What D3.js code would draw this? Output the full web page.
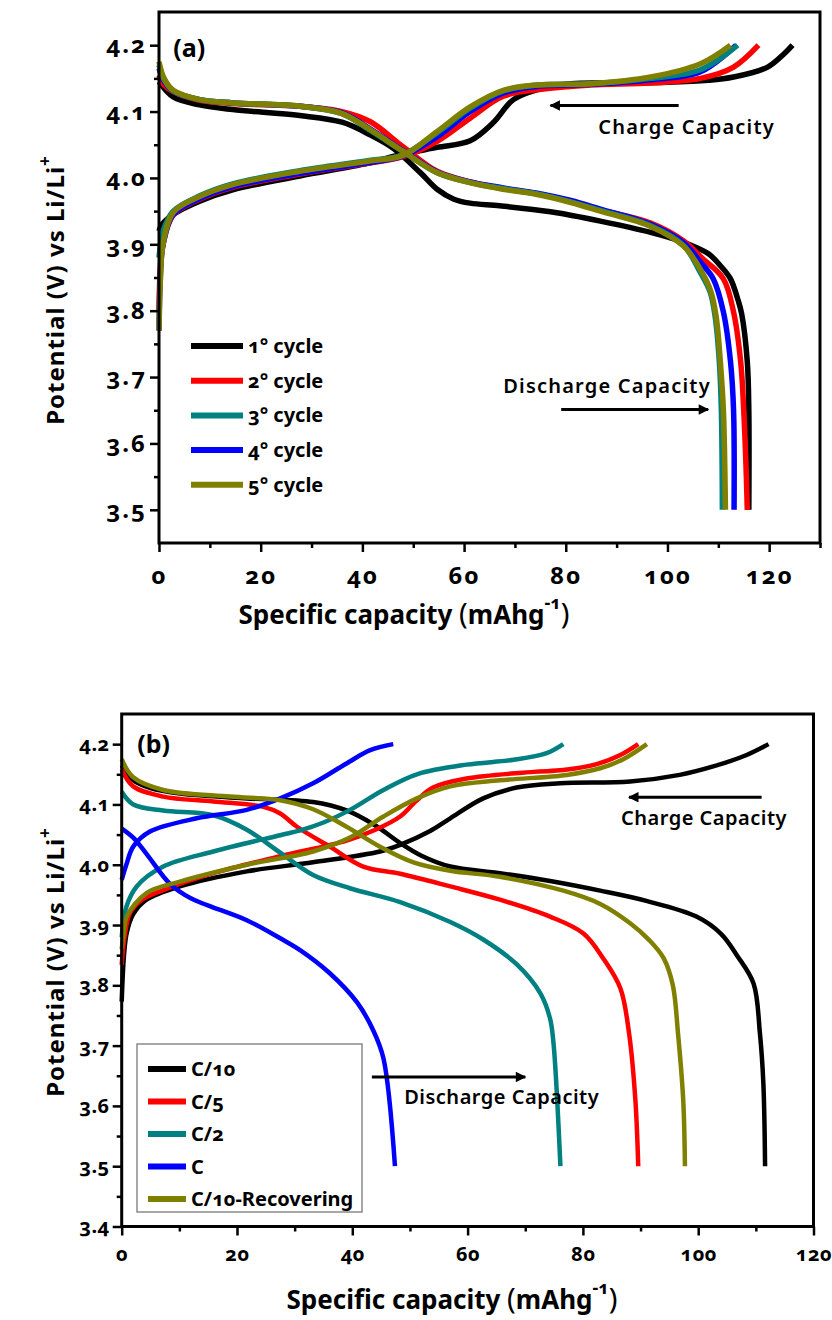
<!DOCTYPE html>
<html>
<head>
<meta charset="utf-8">
<script src="https://cdn.jsdelivr.net/npm/d3@7"></script>
<style>
body { margin: 0; background: #fff; }
svg text { font-family: "Noto Sans", "Open Sans", sans-serif; font-weight: bold; font-feature-settings: "onum"; fill: #000; }
</style>
</head>
<body>
<script>
// ---------- panel (a): first five cycles ----------
var a_labels = ["1\u00b0 cycle", "2\u00b0 cycle", "3\u00b0 cycle", "4\u00b0 cycle", "5\u00b0 cycle"];
var a_colors = ["#000000", "#ff0000", "#008080", "#0000ff", "#808000"];

var a_c1_charge = [[0,3.92],[0.6,3.93],[2.8,3.945],[8,3.965],[14.5,3.982],[27.7,4.003],[41,4.022],[48,4.036],[54.7,4.046],[61.2,4.056],[65.7,4.083],[69.7,4.118],[74.4,4.133],[81,4.142],[90,4.143],[100,4.144],[108,4.147],[113,4.152],[119.7,4.167],[122.8,4.186],[124.6,4.2]];
var a_c1_discharge = [[0,4.145],[2.8,4.122],[8,4.11],[14.5,4.103],[27.7,4.094],[36,4.084],[41.5,4.065],[46,4.045],[51.4,4.008],[54.7,3.983],[58,3.968],[61.2,3.962],[67,3.958],[77,3.949],[86.8,3.935],[96.7,3.918],[103.2,3.903],[108,3.886],[110.5,3.867],[112.4,3.848],[113.8,3.818],[114.6,3.795],[115.7,3.723],[116,3.65],[116,3.5]];

var a_c2_charge = [[0,3.8],[0.3,3.87],[0.8,3.9],[2.8,3.944],[8,3.968],[14.5,3.986],[27.7,4.006],[41,4.022],[48,4.032],[54.7,4.055],[61.2,4.09],[67.7,4.123],[75.6,4.134],[85,4.14],[96.7,4.143],[106.5,4.15],[113,4.167],[117.9,4.2]];
var a_c2_discharge = [[0,4.155],[1,4.14],[2.8,4.13],[8,4.117],[14.5,4.112],[27.7,4.108],[36,4.1],[41.5,4.085],[48,4.047],[54.7,4.01],[61.2,3.994],[67.7,3.984],[74.4,3.976],[81,3.965],[86.8,3.952],[96.7,3.932],[103.2,3.905],[107,3.878],[111,3.848],[113,3.798],[114.4,3.723],[115,3.65],[115.7,3.5]];

var a_c3_charge = [[0,3.88],[0.3,3.9],[0.8,3.92],[2.8,3.95],[8,3.973],[14.5,3.991],[27.7,4.011],[41,4.026],[48,4.035],[54.7,4.068],[61.2,4.105],[67.7,4.131],[74.4,4.14],[85,4.142],[96.7,4.15],[106.5,4.163],[113.8,4.2]];
var a_c3_discharge = [[0,4.17],[1,4.148],[2.8,4.131],[8,4.118],[14.5,4.113],[27.7,4.108],[36,4.097],[41.5,4.072],[48,4.04],[54.7,4.008],[61.2,3.993],[67.7,3.984],[74.4,3.976],[81,3.964],[86.8,3.951],[96.7,3.928],[103.2,3.898],[106.3,3.86],[108.4,3.828],[109.4,3.79],[110.2,3.723],[110.6,3.65],[110.8,3.5]];

var a_c4_charge = [[0,3.77],[0.3,3.86],[0.8,3.9],[2.8,3.945],[8,3.969],[14.5,3.987],[27.7,4.007],[41,4.023],[48,4.033],[54.7,4.062],[61.2,4.1],[67.7,4.128],[74.4,4.138],[85,4.141],[96.7,4.148],[106.5,4.16],[113.5,4.2]];
var a_c4_discharge = [[0,4.165],[1,4.146],[2.8,4.131],[8,4.118],[14.5,4.113],[27.7,4.108],[36,4.098],[41.5,4.074],[48,4.041],[54.7,4.009],[61.2,3.994],[67.7,3.985],[74.4,3.977],[81,3.966],[86.8,3.953],[96.7,3.93],[103.2,3.902],[106.5,3.873],[109,3.848],[111,3.798],[112.4,3.723],[113,3.65],[113.1,3.5]];

var a_c5_charge = [[0,3.77],[0.3,3.85],[0.8,3.9],[2.8,3.948],[8,3.972],[14.5,3.99],[27.7,4.01],[41,4.025],[48,4.034],[54.7,4.07],[61.2,4.107],[67.7,4.132],[74.4,4.14],[85,4.142],[96.7,4.152],[106.5,4.172],[112.4,4.2]];
var a_c5_discharge = [[0,4.175],[1,4.15],[2.8,4.132],[8,4.118],[14.5,4.113],[27.7,4.108],[36,4.097],[41.5,4.073],[48,4.04],[54.7,4.008],[61.2,3.993],[67.7,3.983],[74.4,3.975],[81,3.963],[86.8,3.95],[96.7,3.927],[103.2,3.897],[106.5,3.862],[108.5,3.83],[109.6,3.79],[110.4,3.723],[111,3.65],[111.4,3.5]];

var a_xTicks = [0, 20, 40, 60, 80, 100, 120];
var a_xMinor = [10, 30, 50, 70, 90, 110, 130];
var a_yTicks = [3.5, 3.6, 3.7, 3.8, 3.9, 4.0, 4.1, 4.2];
var a_yMinor = [3.55, 3.65, 3.75, 3.85, 3.95, 4.05, 4.15];

// ---------- panel (b): rate capability ----------
var b_labels = ["C/10", "C/5", "C/2", "C", "C/10-Recovering"];
var b_colors = ["#000000", "#ff0000", "#008080", "#0000ff", "#808000"];

var b_c10_charge = [[0,3.773],[0.4,3.85],[0.87,3.887],[2,3.918],[4.3,3.942],[10.1,3.964],[21.7,3.989],[33.2,4.004],[44.8,4.022],[48.3,4.033],[53.5,4.056],[57,4.077],[62.7,4.11],[68.5,4.128],[76,4.135],[88.2,4.138],[96.8,4.149],[102.6,4.163],[108.4,4.182],[112.2,4.2]];
var b_c10_discharge = [[0,4.165],[2,4.14],[5,4.127],[10.1,4.118],[21.7,4.11],[33.2,4.104],[39,4.09],[44,4.065],[48.3,4.036],[52,4.015],[57,3.997],[65.6,3.986],[74.3,3.973],[83,3.957],[91,3.94],[99.7,3.914],[104,3.885],[106.7,3.85],[109.6,3.803],[110.7,3.721],[111.3,3.638],[111.6,3.5]];

var b_c5_charge = [[0,3.834],[0.5,3.88],[1.44,3.92],[3.5,3.942],[7.2,3.958],[15.9,3.986],[27.5,4.014],[39,4.04],[44,4.058],[48.3,4.08],[51,4.105],[54,4.128],[59.8,4.143],[71.4,4.154],[76.6,4.157],[82.4,4.167],[86.5,4.182],[89.6,4.2]];
var b_c5_discharge = [[0,4.158],[2,4.13],[7.2,4.113],[15.9,4.105],[24.6,4.096],[27.5,4.085],[30.4,4.063],[36.1,4.03],[41.9,3.997],[48.3,3.985],[57,3.964],[65.6,3.942],[74.3,3.914],[80.1,3.886],[83.5,3.845],[86.5,3.795],[88,3.721],[89.1,3.61],[89.6,3.5]];

var b_c2_charge = [[0,3.88],[0.8,3.93],[2.6,3.964],[7.2,3.997],[15.9,4.022],[27.5,4.049],[31,4.057],[35,4.07],[39.6,4.091],[45.4,4.124],[51.2,4.15],[59.8,4.166],[68,4.174],[73.7,4.185],[76.6,4.2]];
var b_c2_discharge = [[0,4.121],[2,4.1],[7.2,4.09],[15.9,4.082],[21.7,4.058],[27.5,4.02],[33.2,3.983],[39.6,3.961],[48.3,3.938],[57,3.905],[62.7,3.876],[68.5,3.835],[72.6,3.787],[74.3,3.745],[74.9,3.704],[76.1,3.5]];

var b_c1_charge = [[0,3.975],[0.8,4.0],[2,4.03],[4.9,4.055],[13,4.077],[21.7,4.091],[27.5,4.11],[33.2,4.135],[39,4.168],[43.1,4.19],[47.1,4.2]];
var b_c1_discharge = [[0,4.06],[2,4.045],[4.3,4.018],[8.4,3.968],[11.9,3.945],[21.7,3.908],[27.5,3.878],[31,3.858],[36.1,3.82],[40.8,3.772],[43.6,3.726],[45.4,3.679],[47.4,3.5]];

var b_rec_charge = [[0,3.86],[0.4,3.89],[0.87,3.914],[4.3,3.953],[10.1,3.972],[21.7,4.0],[33.2,4.022],[39.6,4.045],[45.4,4.08],[51.2,4.11],[57,4.13],[65.6,4.14],[77.2,4.149],[83,4.16],[87,4.175],[91.1,4.2]];
var b_rec_discharge = [[0,4.175],[2,4.145],[7.2,4.124],[18.8,4.113],[27.5,4.107],[33.2,4.092],[39,4.063],[44.8,4.03],[50.6,4.004],[57,3.99],[65.6,3.98],[76.6,3.957],[83,3.935],[88.2,3.903],[91.5,3.875],[94,3.845],[95.6,3.8],[96.5,3.72],[97.4,3.61],[97.7,3.5]];

var b_xTicks = [0, 20, 40, 60, 80, 100, 120];
var b_xMinor = [10, 30, 50, 70, 90, 110];
var b_yTicks = [3.4, 3.5, 3.6, 3.7, 3.8, 3.9, 4.0, 4.1, 4.2];
var b_yMinor = [3.45, 3.55, 3.65, 3.75, 3.85, 3.95, 4.05, 4.15];

var svg = d3.select("body").append("svg")
            .attr("width", 832)
            .attr("height", 1320);

svg.append("defs").append("marker")
   .attr("id", "head")
   .attr("viewBox", "0 0 10 10")
   .attr("refX", 9).attr("refY", 5)
   .attr("markerWidth", 5).attr("markerHeight", 3.5)
   .attr("markerUnits", "strokeWidth")
   .attr("orient", "auto")
   .append("path").attr("d", "M0,0L10,5L0,10z").attr("fill", "#000");

function drawPanel(p) {
    var x = d3.scaleLinear().domain(p.xDomain).range([p.left, p.right]);
    var y = d3.scaleLinear().domain(p.yDomain).range([p.bottom, p.top]);
    var g = svg.append("g");

    var line = d3.line()
                 .x(function(d) { return x(d[0]); })
                 .y(function(d) { return y(d[1]); })
                 .curve(d3.curveCatmullRom.alpha(0.5));

    p.order.forEach(function(i) {
        [p.charge[i], p.discharge[i]].forEach(function(arr) {
            g.append("path")
             .attr("d", line(arr))
             .attr("fill", "none")
             .attr("stroke", p.colors[i])
             .attr("stroke-width", p.lw)
             .attr("stroke-linejoin", "round");
        });
    });

    // frame
    g.append("rect")
     .attr("x", p.left).attr("y", p.top)
     .attr("width", p.right - p.left).attr("height", p.bottom - p.top)
     .attr("fill", "none").attr("stroke", "#000").attr("stroke-width", 3);

    // axes (major + minor)
    var yAx = g.append("g").attr("transform", "translate(" + p.left + ",0)")
               .call(d3.axisLeft(y).tickValues(p.yTicks).tickSize(9).tickPadding(3).tickFormat(d3.format(".1f")));
    var yMin = g.append("g").attr("transform", "translate(" + p.left + ",0)")
               .call(d3.axisLeft(y).tickValues(p.yMinor).tickSize(5).tickFormat(""));
    var xAx = g.append("g").attr("transform", "translate(0," + p.bottom + ")")
               .call(d3.axisBottom(x).tickValues(p.xTicks).tickSize(9).tickPadding(p.xPad).tickFormat(d3.format("d")));
    var xMin = g.append("g").attr("transform", "translate(0," + p.bottom + ")")
               .call(d3.axisBottom(x).tickValues(p.xMinor).tickSize(5).tickFormat(""));
    [yAx, yMin, xAx, xMin].forEach(function(ax) {
        ax.select(".domain").remove();
        ax.selectAll(".tick line").attr("stroke", "#000").attr("stroke-width", 2.5);
        ax.selectAll("text").attr("font-family", null)
          .style("font-size", p.tickFont + "px")
          .style("letter-spacing", p.tickSpace + "px")
          .attr("fill", "#000");
    });

    // panel letter
    g.append("text").attr("x", x(p.tag[0])).attr("y", y(p.tag[1])).attr("dy", "0.35em")
     .style("font-size", "25px").text(p.tag[2]);

    // legend
    if (p.legendBox) {
        g.append("rect").attr("x", p.legendBox[0]).attr("y", p.legendBox[1])
         .attr("width", p.legendBox[2]).attr("height", p.legendBox[3])
         .attr("fill", "#fff").attr("stroke", "#8a8a8a").attr("stroke-width", 1.5);
    }
    p.labels.forEach(function(lab, i) {
        var ly = p.legend.y + i * p.legend.dy;
        g.append("line").attr("x1", p.legend.x1).attr("x2", p.legend.x2)
         .attr("y1", ly).attr("y2", ly)
         .attr("stroke", p.colors[i]).attr("stroke-width", p.legend.lw);
        g.append("text").attr("x", p.legend.tx).attr("y", ly).attr("dy", "0.35em")
         .style("font-size", p.legend.fs + "px").text(lab);
    });

    // annotations
    p.notes.forEach(function(n) {
        g.append("text").attr("x", x(n.tx)).attr("y", y(n.ty)).attr("dy", "0.35em")
         .style("font-size", "20px").style("font-weight", "600")
         .style("letter-spacing", p.noteSpace + "px").text(n.text);
        g.append("line").attr("x1", x(n.ax1)).attr("x2", x(n.ax2))
         .attr("y1", y(n.ay)).attr("y2", y(n.ay))
         .attr("stroke", "#000").attr("stroke-width", 3)
         .attr("marker-end", "url(#head)");
    });

    // x title
    var t = g.append("text").attr("x", p.xTitle[0]).attr("y", p.xTitle[1])
             .attr("text-anchor", "middle").style("font-size", "26px");
    t.append("tspan").text("Specific capacity ");
    t.append("tspan").style("font-size", "29px").style("font-weight", "normal").text("(");
    t.append("tspan").text("mAhg");
    t.append("tspan").attr("dy", -15).style("font-size", "18px").text("-1");
    t.append("tspan").attr("dy", 15).style("font-size", "29px").style("font-weight", "normal").text(")");

    // y title
    var yt = g.append("text")
              .attr("transform", "translate(" + p.yTitle[0] + "," + p.yTitle[1] + ") rotate(-90)")
              .attr("text-anchor", "middle").style("font-size", "24px")
              .style("letter-spacing", "1px");
    yt.append("tspan").text("Potential (V) vs Li/Li");
    yt.append("tspan").attr("dy", -13).style("font-size", "17px").text("+");
}

drawPanel({
    xDomain: [0, 130], yDomain: [3.45, 4.25],
    left: 159, right: 820, top: 12, bottom: 543,
    lw: 5.5, tickFont: 24, tickSpace: 2, xPad: 15, noteSpace: 1.2,
    xTicks: a_xTicks, xMinor: a_xMinor, yTicks: a_yTicks, yMinor: a_yMinor,
    charge: [a_c1_charge, a_c2_charge, a_c3_charge, a_c4_charge, a_c5_charge],
    discharge: [a_c1_discharge, a_c2_discharge, a_c3_discharge, a_c4_discharge, a_c5_discharge],
    colors: a_colors, labels: a_labels, order: [0, 1, 3, 2, 4],
    tag: [2.8, 4.195, "(a)"],
    legend: { x1: 191, x2: 243, tx: 248, y: 346, dy: 34.7, lw: 6, fs: 20 },
    notes: [
        { text: "Charge Capacity", tx: 86.4, ty: 4.077, ax1: 102.2, ax2: 77, ay: 4.109 },
        { text: "Discharge Capacity", tx: 67.7, ty: 3.686, ax1: 79.1, ax2: 108, ay: 3.651 }
    ],
    xTitle: [404, 624], yTitle: [64, 290]
});

drawPanel({
    xDomain: [0, 120], yDomain: [3.4, 4.25],
    left: 121.7, right: 813.5, top: 714, bottom: 1226.5,
    lw: 4.5, tickFont: 20, tickSpace: 0.5, xPad: 11, noteSpace: 0.5,
    xTicks: b_xTicks, xMinor: b_xMinor, yTicks: b_yTicks, yMinor: b_yMinor,
    charge: [b_c10_charge, b_c5_charge, b_c2_charge, b_c1_charge, b_rec_charge],
    discharge: [b_c10_discharge, b_c5_discharge, b_c2_discharge, b_c1_discharge, b_rec_discharge],
    colors: b_colors, labels: b_labels, order: [0, 1, 2, 3, 4],
    tag: [2.7, 4.2, "(b)"],
    legendBox: [137, 1044, 225, 168],
    legend: { x1: 148, x2: 186, tx: 191, y: 1069, dy: 32.5, lw: 6, fs: 20 },
    notes: [
        { text: "Charge Capacity", tx: 86.6, ty: 4.078, ax1: 111, ax2: 88, ay: 4.112 },
        { text: "Discharge Capacity", tx: 49, ty: 3.615, ax1: 43.4, ax2: 70, ay: 3.648 }
    ],
    xTitle: [452, 1309], yTitle: [64, 962]
});
</script>
</body>
</html>
